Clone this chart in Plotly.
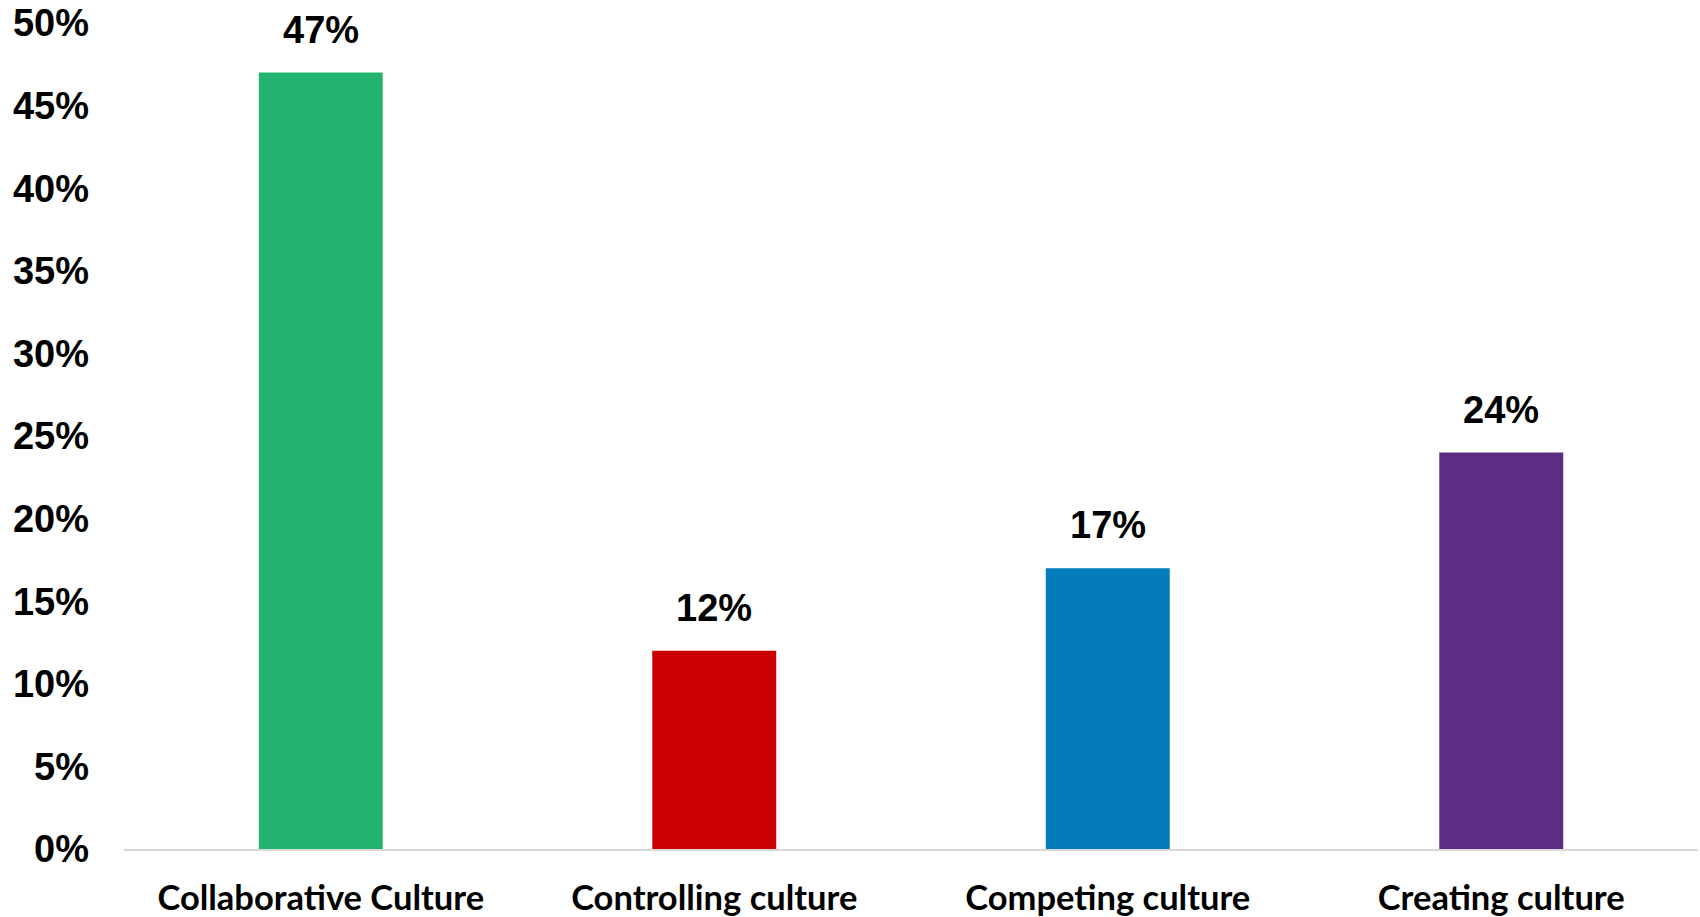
import plotly.graph_objects as go

categories = ["Collaborative Culture", "Controlling culture", "Competing culture", "Creating culture"]
values = [47, 12, 17, 24]
value_labels = ["47%", "12%", "17%", "24%"]
bar_colors = ["#22B46E", "#CC0000", "#047BBA", "#5C2D82"]
y_tickvals = [0, 5, 10, 15, 20, 25, 30, 35, 40, 45, 50]
y_ticktext = ["0%", "5%", "10%", "15%", "20%", "25%", "30%", "35%", "40%", "45%", "50%"]

fig = go.Figure()
fig.add_trace(go.Bar(
    x=categories,
    y=values,
    marker=dict(color=bar_colors, line=dict(width=0)),
    hoverinfo="skip",
))

for c, v, t in zip(categories, values, value_labels):
    fig.add_annotation(
        x=c, y=v, text=t, showarrow=False,
        yanchor="middle", yshift=43,
        font=dict(family="Liberation Sans, Arial", size=38, color="#000000", weight="bold"),
    )

fig.update_layout(
    width=1700, height=917,
    margin=dict(l=124, r=2, t=23, b=68, pad=0),
    paper_bgcolor="white", plot_bgcolor="white",
    bargap=0.685,
    showlegend=False,
    font=dict(family="Liberation Sans, Arial", color="#000000"),
)

fig.update_xaxes(
    automargin=False,
    showgrid=False, zeroline=False,
    showline=True, linecolor="#D9D9D9", linewidth=2,
    ticks="", ticklabelstandoff=18,
    tickfont=dict(family="Lato", size=34.5, color="#000000", weight="bold"),
)
fig.update_yaxes(
    automargin=False,
    range=[0, 50], showgrid=False, zeroline=False, showline=False,
    tickmode="array", tickvals=y_tickvals, ticktext=y_ticktext,
    ticks="", ticklabelstandoff=34,
    tickfont=dict(family="Liberation Sans, Arial", size=38, color="#000000", weight="bold"),
)

fig.write_html("out.html")
